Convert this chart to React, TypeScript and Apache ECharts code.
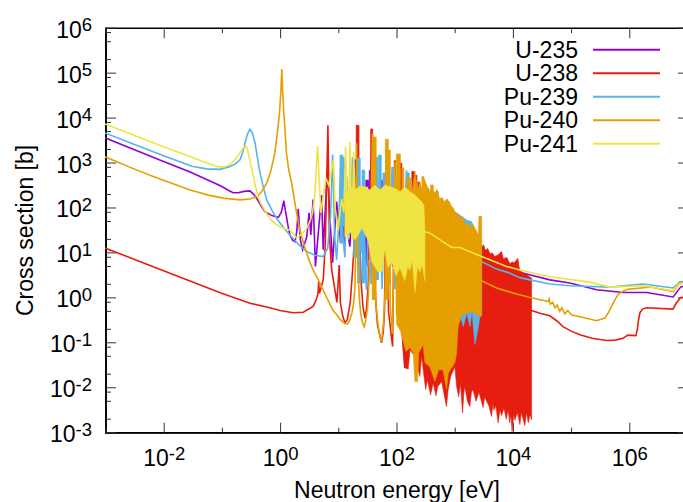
import React, { useEffect, useRef } from "react";
import * as echarts from "echarts";

// every pair is [log10(energy / eV), log10(cross section / b)]
type P = [number, number];
// a resolved resonance group: [log10 energy, log10 top, log10 bottom, width in log10 energy]
type Bar = [number, number, number, number];

const isotopeNames = ["U-235", "U-238", "Pu-239", "Pu-240", "Pu-241"];
const xMajorTicks = [-2, 0, 2, 4, 6];
const xOddTicks = [-3, -1, 1, 3, 5, 7];
const yDecades = [-3, -2, -1, 0, 1, 2, 3, 4, 5, 6];
const yMinorFactors = [2, 5, 8];

const u235Line: P[] = [
  [-3, 3.56], [-2.5, 3.3], [-2, 3.04], [-1.53, 2.8], [-1, 2.49], [-0.88, 2.4], [-0.79, 2.34], [-0.7, 2.34],
  [-0.6, 2.37], [-0.5, 2.38], [-0.44, 2.31], [-0.38, 2.21], [-0.3, 2.03], [-0.24, 1.92], [-0.12, 1.83], [-0.01, 1.79],
  [0.04, 1.9], [0.086, 2.16], [0.11, 1.95], [0.13, 1.81], [0.16, 1.58], [0.19, 1.4], [0.24, 1.28], [0.28, 1.25],
  [0.31, 1.5], [0.333, 1.98], [0.37, 1.29], [0.41, 1.07], [0.48, 1.36], [0.52, 1.89], [0.55, 1.4], [0.59, 2.19],
  [0.63, 0.7], [0.736, 2.29], [0.764, 1.07], [0.833, 2.81], [0.926, 0.78], [0.995, 2.14], [1.064, 1.22], [1.12, 1.96],
  [1.224, 1.14], [1.31, 3.07], [1.385, 1.22], [1.45, 2.6], [1.52, 0.7], [1.557, 2.58], [1.6, 0.6], [1.66, 2.6],
  [1.7, 0.9], [1.78, 2.5], [1.84, 0.8], [1.9, 2.4], [1.96, 0.7], [2.05, 2.3], [2.12, 0.9], [2.2, 2.1],
  [2.3, 0.9], [2.4, 1.9], [2.6, 1.1], [3, 1.2], [3.4, 0.95], [3.8, 0.75], [4.184, 0.56], [4.672, 0.4],
  [5.017, 0.33], [5.478, 0.18], [5.936, 0.12], [6.34, 0.12], [6.798, 0.02], [6.926, 0.24], [7.1, 0.3],
];
const u235Bars: Bar[] = [
  [1.121, 3.0, 1.22, 0.03], [1.078, 2.1, 1.22, 0.03], [1.31, 3.07, 0.92, 0.03], [1.517, 1.5, 0.84, 0.05],
  [1.581, 2.84, 0.84, 0.05], [1.52, 2.62, 2.47, 0.05], [1.776, 2.62, 1.0, 0.03], [1.828, 2.0, 1.0, 0.03],
];

const u238Line: P[] = [
  [-3, 1.11], [-2, 0.61], [-1, 0.11], [-0.5, -0.12], [-0.155, -0.22], [0.017, -0.28], [0.247, -0.33], [0.42, -0.32],
  [0.59, -0.19], [0.64, -0.05], [0.675, 0.1], [0.685, 0.35], [0.7, 0.1], [0.764, 0.4], [0.8, 1.2], [0.845, 3.84],
  [0.87, 1.4], [0.91, 0.62], [0.966, 0.18], [1.0, -0.1], [1.04, 0.73], [1.06, -0.1], [1.1, -0.4], [1.138, -0.56],
  [1.18, -0.48], [1.23, -0.1], [1.27, 0.6], [1.31, 1.5], [1.357, 3.84], [1.385, 1.5], [1.42, 0.3], [1.45, -0.2],
  [1.483, -0.45], [1.51, -0.25], [1.54, 0.3], [1.57, 1.2], [1.6, 3.75], [1.63, 1.2], [1.66, 0.1], [1.7, -0.6],
  [1.77, -1.0], [1.8, -0.75], [1.82, -0.3], [1.857, 3.3], [1.89, -0.3], [1.93, -0.75], [1.96, -1.08],
  [2, 3.05], [2.07, -0.5], [2.1, 2.98], [2.14, -1], [2.17, -1.56], [2.2, 2.5], [2.26, -1.16],
  [2.315, 2.81], [2.35, -1.3], [2.41, 2.55], [2.45, -1.3], [2.57, 2.4], [2.62, 0], [4.357, -0.28], [4.5, -0.34],
  [4.672, -0.4], [4.8, -0.52], [4.897, -0.64], [5.04, -0.74], [5.19, -0.82], [5.4, -0.9], [5.65, -0.95], [5.8, -0.94],
  [5.93, -0.9], [6.017, -0.83], [6.155, -0.84], [6.18, -0.7], [6.2, -0.5], [6.224, -0.33], [6.27, -0.25], [6.34, -0.22],
  [6.793, -0.25], [6.85, -0.12], [6.926, 0.01], [7.1, 0.02],
];
const u238Top: P[] = [
  [2.116, -0.7], [2.3, -0.3], [2.5, 1.5], [2.7, 1.8], [3, 1.6], [3.3, 1.4], [3.495, 1.14], [3.53, 1.18],
  [3.56, 1.06], [3.6, 1.1], [3.64, 0.98], [3.68, 1.0], [3.72, 0.92], [3.78, 0.96], [3.84, 1.03], [3.87, 0.87],
  [3.93, 0.9], [3.983, 0.76], [4.02, 0.8], [4.06, 0.78], [4.12, 0.88], [4.14, 0.7], [4.155, 0.6], [4.25, 0.53],
  [4.357, 0.44],
];
const u238Bottom: P[] = [
  [2.116, -0.78], [2.172, -1.56], [2.23, -1.58], [2.26, -1.16], [2.345, -1.3], [2.43, -1.75], [2.46, -1.3], [2.53, -2.04],
  [2.56, -1.82], [2.615, -2.16], [2.66, -1.89], [2.707, -2.18], [2.74, -1.97], [2.805, -1.86], [2.89, -2.42], [2.914, -2.08],
  [2.96, -1.75], [3.034, -1.53], [3.064, -1.97], [3.1, -2.2], [3.13, -1.9], [3.167, -2.56], [3.19, -2.1], [3.207, -1.97],
  [3.25, -2.3], [3.293, -2.42], [3.32, -2.1], [3.345, -2.04], [3.4, -2.3], [3.45, -2.1], [3.52, -2.44], [3.55, -2.2],
  [3.58, -2.3], [3.62, -2.4], [3.667, -2.64], [3.69, -2.35], [3.707, -2.5], [3.74, -2.4], [3.78, -2.78], [3.81, -2.5],
  [3.84, -2.62], [3.88, -2.45], [3.92, -2.7], [3.953, -2.5], [3.98, -2.78], [4.0, -2.6], [4.02, -2.97], [4.05, -2.6],
  [4.07, -2.72], [4.11, -2.55], [4.155, -2.82], [4.18, -2.55], [4.21, -2.7], [4.24, -2.84], [4.27, -2.55], [4.3, -2.78],
  [4.33, -2.6], [4.357, -2.71],
];
const u238Bars: Bar[] = [
  [1.357, 3.84, 1.5, 0.05], [1.6, 3.76, 1.0, 0.035], [2.103, 3.0, 1.0, 0.035], [2.0, 3.05, 1.0, 0.03],
  [2.316, 2.81, 1.0, 0.05], [2.362, 2.73, 1.0, 0.035], [2.414, 2.58, 1.0, 0.035], [2.569, 2.42, 1.0, 0.035],
];

const pu239Line: P[] = [
  [-3, 3.67], [-2.5, 3.42], [-2, 3.17], [-1.5, 2.93], [-1.25, 2.87], [-1.02, 2.86], [-0.85, 2.92], [-0.75, 2.98],
  [-0.67, 3.07], [-0.62, 3.25], [-0.586, 3.44], [-0.54, 3.65], [-0.5, 3.75], [-0.46, 3.68], [-0.41, 3.44], [-0.37, 3.12],
  [-0.33, 2.81], [-0.27, 2.47], [-0.21, 2.18], [-0.12, 1.95], [-0.04, 1.77], [0.08, 1.56], [0.19, 1.4], [0.33, 1.2],
  [0.48, 1.03], [0.62, 0.95], [0.76, 0.92], [0.84, 1.1],
  [0.89, 1.8], [0.926, 3.19], [0.96, 1.4], [0.995, 0.84], [1.03, 1.6], [1.07, 3.18], [1.1, 1.4], [1.138, 0.9],
  [1.17, 2.7], [1.2, 1.3], [1.24, 2], [1.27, 3.13], [1.3, 1.4], [1.33, 0.9], [1.38, 2.5], [1.42, 1.0],
  [1.45, 2.85], [1.49, 0.6], [1.51, 0.18], [1.55, 2.4], [1.59, 0.3], [1.62, 2.5], [1.66, 0.5], [1.684, 3.1],
  [1.71, 0.4], [1.74, 3.14], [1.78, 0.2], [1.83, 2.77], [1.87, 0], [1.96, 2.91], [2.0, 0.2], [2.06, 2.7],
  [2.1, 0], [2.2, 2.84], [2.26, 0], [2.4, 1], [3.495, 0.81], [3.753, 0.64], [3.983, 0.55], [4.155, 0.45],
  [4.328, 0.4], [4.672, 0.31], [5.017, 0.27], [5.707, 0.24], [6.276, 0.31], [6.798, 0.22], [6.914, 0.36], [7.1, 0.38],
];
const pu239Top: P[] = [
  [2.3, 2.4], [3.034, 1.92], [3.24, 1.73], [3.32, 1.7], [3.41, 1.44], [3.466, 1.4], [3.495, 1.3],
];
const pu239Bottom: P[] = [
  [2.3, 0.2], [3.121, -0.38], [3.18, -0.64], [3.24, -0.33], [3.293, -0.64], [3.33, -0.3], [3.379, -1.04], [3.42, -0.78],
  [3.466, -0.42], [3.495, -0.4],
];
const pu239Bars: Bar[] = [
  [1.078, 3.18, 1.22, 0.05], [1.103, 3.13, 1.6, 0.05], [1.31, 2.0, 0.9, 0.05], [1.379, 3.11, 0.33, 0.05],
  [1.457, 2.84, 0.33, 0.05], [1.684, 3.13, 0.4, 0.04], [1.741, 3.18, 1.1, 0.05], [1.81, 2.78, 1.5, 0.035],
  [1.96, 2.91, 1.0, 0.035], [2.224, 2.78, 1.0, 0.05], [2.724, 2.36, 1.0, 0.05],
];

const pu240Line: P[] = [
  [-3, 3.14], [-2.5, 2.87], [-2.11, 2.67], [-1.53, 2.4], [-1.2, 2.28], [-0.96, 2.22], [-0.67, 2.18], [-0.5, 2.2],
  [-0.38, 2.25], [-0.3, 2.36], [-0.21, 2.55], [-0.14, 2.82], [-0.07, 3.22], [-0.02, 3.75], [0.01, 4.1], [0.034, 4.6],
  [0.05, 5.09], [0.065, 4.6], [0.085, 4.1], [0.103, 3.8], [0.13, 3.22], [0.17, 2.85], [0.22, 2.55], [0.29, 2.0],
  [0.36, 1.51], [0.44, 1.15], [0.52, 0.84], [0.59, 0.62], [0.68, 0.4], [0.8, 0.07], [0.93, -0.27], [1.0, -0.38],
  [1.07, -0.5], [1.13, -0.56], [1.18, -0.58], [1.22, -0.5], [1.26, -0.33], [1.29, -0.1], [1.31, 0.2], [1.325, 1.2],
  [1.34, 3.44], [1.355, 1.2], [1.37, 0.4], [1.39, -0.05], [1.41, -0.35], [1.44, -0.55], [1.47, -0.64], [1.5, -0.48],
  [1.53, -0.2], [1.55, 0.25], [1.575, 1.2], [1.615, 3.66], [1.64, 1.2], [1.66, 0.2], [1.68, -0.25], [1.72, -0.7],
  [1.77, -0.99], [1.8, -0.6], [1.83, 0.1], [1.84, 0.8], [1.857, 3.51], [1.875, 0.2], [1.897, 3.25], [1.92, -0.2],
  [1.96, -0.8], [2.0, 3.03], [2.03, -0.4], [2.06, 3.18], [2.09, -0.71], [2.2, 1], [3.495, 0.38], [3.753, 0.22],
  [4.034, 0.11], [4.328, 0.01], [4.64, -0.08], [4.66, -0.02], [4.68, -0.14], [4.72, -0.1], [4.76, -0.22], [4.8, -0.16],
  [4.84, -0.3], [4.88, -0.22], [4.93, -0.36], [4.98, -0.28], [5.047, -0.38], [5.19, -0.42], [5.478, -0.51], [5.62, -0.45],
  [5.68, -0.33], [5.736, -0.19], [5.8, -0.03], [5.845, 0.07], [5.93, 0.15], [6.017, 0.19], [6.397, 0.24], [6.798, 0.14],
  [6.914, 0.33], [7.1, 0.36],
];
const pu240Top: P[] = [
  [2.03, 2.3], [2.14, 2.4], [2.19, 2.3], [2.23, 2.45], [2.29, 2.3], [2.345, 2.81], [2.39, 2.4], [2.43, 2.58],
  [2.46, 2.4], [2.5, 2.66], [2.6, 2.35], [2.64, 2.42], [2.69, 2.33], [2.73, 2.42], [2.77, 2.2], [2.81, 2.24],
  [2.85, 2.14], [2.9, 2.2], [2.948, 2.12], [2.978, 2.03], [3.01, 2.0], [3.034, 1.9], [3.07, 1.88], [3.121, 1.78],
  [3.18, 1.8], [3.2, 1.62], [3.25, 1.68], [3.3, 1.58], [3.35, 1.62], [3.4, 1.5], [3.44, 1.4], [3.45, 1.82],
  [3.495, 1.81],
];
const pu240Bottom: P[] = [
  [2.03, -0.6], [2.09, -0.71], [2.19, -1.19], [2.26, -1.11], [2.315, -1.22], [2.345, -1.86], [2.39, -1.86], [2.41, -1.22],
  [2.49, -1.04], [2.517, -1.44], [2.603, -1.53], [2.69, -1.86], [2.75, -1.6], [2.83, -1.6], [2.89, -2.03], [2.92, -1.67],
  [3.034, -1.44], [3.064, -1.22], [3.09, -0.64], [3.15, -0.38], [3.32, -0.3], [3.466, -0.42], [3.495, -0.38],
];
const pu240Bars: Bar[] = [
  [1.643, 3.58, -0.04, 0.07], [1.862, 3.53, -0.04, 0.05], [1.905, 3.29, 0.3, 0.035], [2.06, 3.2, 0.3, 0.07],
  [2.138, 2.89, 0.3, 0.035], [2.241, 2.67, 0.3, 0.07], [2.483, 2.7, 1.0, 0.035], [2.638, 2.51, 1.0, 0.05],
];

const pu241Line: P[] = [
  [-3, 3.87], [-2.5, 3.62], [-2, 3.37], [-1.5, 3.13], [-1.3, 3.03], [-1.15, 2.96], [-1.05, 2.92], [-0.95, 2.91],
  [-0.85, 2.96], [-0.75, 3.09], [-0.7, 3.17], [-0.65, 3.27], [-0.6, 3.36], [-0.57, 3.38], [-0.54, 3.3], [-0.5, 3.07],
  [-0.47, 2.88], [-0.44, 2.7], [-0.4, 2.47], [-0.36, 2.25], [-0.32, 2.12], [-0.27, 2.0], [-0.2, 1.85], [-0.13, 1.73],
  [-0.05, 1.64], [0.02, 1.58], [0.1, 1.54], [0.19, 1.51], [0.25, 1.42], [0.3, 1.34], [0.38, 1.4], [0.48, 1.55],
  [0.54, 1.72], [0.58, 1.89], [0.62, 2.3], [0.65, 3.0], [0.667, 3.38], [0.695, 2.62], [0.724, 1.89], [0.81, 2.67],
  [0.86, 2.5], [0.94, 3.07], [0.97, 2.0], [1.02, 1.5], [1.08, 2.2], [1.12, 1.9], [1.15, 3.36], [1.19, 1.3],
  [1.225, 3.47], [1.26, 1.3], [1.29, 3.25], [1.33, 1.4], [1.5, 2.0], [2.517, 1.47], [2.603, 1.44], [2.978, 1.12],
  [3.12, 1.12], [3.495, 0.92], [3.926, 0.7], [4.155, 0.62], [4.672, 0.47], [5.362, 0.35], [5.707, 0.24], [6.276, 0.27],
  [6.798, 0.16], [6.884, 0.3], [7.1, 0.37],
];
const pu241Top: P[] = [
  [1.138, 2.29], [1.224, 2.47], [1.31, 2.4], [1.397, 2.49], [1.483, 2.47], [1.569, 2.4], [1.655, 2.51], [1.741, 2.4],
  [1.828, 2.51], [1.914, 2.47], [2.0, 2.44], [2.086, 2.36], [2.172, 2.47], [2.259, 2.36], [2.345, 2.29], [2.431, 2.18],
  [2.5, 2.07], [2.517, 1.47],
];
const pu241Bottom: P[] = [
  [1.138, 1.36], [1.224, 1.47], [1.31, 1.29], [1.362, 1.38], [1.431, 1.56], [1.534, 1.29], [1.603, 0.8], [1.707, 0.58],
  [1.776, 0.58], [1.828, 1.07], [1.879, 0.67], [1.948, 0.8], [2.017, 0.49], [2.086, 0.67], [2.172, 0.38], [2.22, 0.7],
  [2.259, 0.62], [2.3, 0.85], [2.345, 0.11], [2.39, 0.7], [2.431, 0.58], [2.47, 0.75], [2.517, 0.38],
];

const colors = ["#9400D3", "#E51E10", "#56B4E9", "#E69F00", "#F0E442"];
const lines = [u235Line, u238Line, pu239Line, pu240Line, pu241Line];
const bands: ([P[], P[]] | null)[] = [
  null,
  [u238Top, u238Bottom],
  [pu239Top, pu239Bottom],
  [pu240Top, pu240Bottom],
  [pu241Top, pu241Bottom],
];
const bars: Bar[][] = [u235Bars, u238Bars, pu239Bars, pu240Bars, []];

// the readings were taken with a ruler of 58 px per decade from x = 279; the axis is 58.2 from 280.7
const readX = (e: number) => (279 + 58 * e - 280.7) / 58.2;
const pt = (p: P) => [Math.pow(10, readX(p[0])), Math.pow(10, p[1])];
const FONT = "Liberation Sans";
const X_MIN = 1e-3;
const X_MAX = 1e7;
const Y_MIN = 1e-3;
const Y_MAX = 1e6;

function tickItems(api: any) {
  const children: any[] = [];
  const add = (a: number[], dx: number, dy: number) =>
    children.push({
      type: "line",
      shape: { x1: a[0], y1: a[1], x2: a[0] + dx, y2: a[1] + dy },
      style: { stroke: "#333", lineWidth: 1 },
    });
  const xTick = (e: number, len: number) => {
    add(api.coord([Math.pow(10, e), Y_MIN]), 0, -len);
    add(api.coord([Math.pow(10, e), Y_MAX]), 0, len);
  };
  const yTick = (v: number, len: number) => {
    add(api.coord([X_MIN, v]), len, 0);
    add(api.coord([X_MAX, v]), -len, 0);
  };
  xMajorTicks.forEach((e) => xTick(e, 10));
  xOddTicks.forEach((e) => xTick(e, 5));
  yDecades.forEach((d) => {
    yTick(Math.pow(10, d), 10);
    if (d < 6) yMinorFactors.forEach((f) => yTick(f * Math.pow(10, d), 5));
  });
  return { type: "group", children };
}

function labelRich() {
  return {
    b: { fontFamily: FONT, fontSize: 23, color: "#000", lineHeight: 26, verticalAlign: "bottom" },
    s: { fontFamily: FONT, fontSize: 18.5, color: "#000", lineHeight: 26, verticalAlign: "top", padding: [0, 0, 8, 0] },
  };
}

export default function App() {
  const ref = useRef<HTMLDivElement>(null);
  useEffect(() => {
    const chart = echarts.init(ref.current!, undefined, { renderer: "svg" });
    const series: any[] = [
      {
        type: "custom",
        name: "ticks",
        coordinateSystem: "cartesian2d",
        data: [[1, 1]],
        clip: false,
        silent: true,
        z: 1,
        renderItem: (_p: any, api: any) => tickItems(api),
      },
    ];
    isotopeNames.forEach((name, i) => {
      const band = bands[i];
      series.push({
        type: "custom",
        name: name + " resonances",
        coordinateSystem: "cartesian2d",
        data: [[1, 1]],
        clip: true,
        silent: true,
        z: 2 + 2 * i,
        renderItem: (_p: any, api: any) => {
          const style = { fill: colors[i], stroke: colors[i], lineWidth: 0.6 };
          const children: any[] = bars[i].map(([x, top, bottom, w]) => ({
            type: "polygon",
            shape: {
              points: ([
                [x - w / 2, top],
                [x + w / 2, top],
                [x + w / 2, bottom],
                [x - w / 2, bottom],
              ] as P[]).map((p) => api.coord(pt(p))),
            },
            style,
          }));
          if (band) {
            children.push({
              type: "polygon",
              shape: {
                points: [...band[0], ...band[1].slice().reverse()].map((p) => api.coord(pt(p))),
              },
              style,
            });
          }
          return { type: "group", children };
        },
      });
      series.push({
        type: "line",
        name,
        data: lines[i].map(pt),
        showSymbol: false,
        symbol: "none",
        clip: true,
        z: 3 + 2 * i,
        lineStyle: { color: colors[i], width: 1.6, join: "miter" },
        itemStyle: { color: colors[i] },
      });
    });
    chart.setOption({
      animation: false,
      backgroundColor: "#fff",
      grid: {
        left: 106,
        top: 28.2,
        right: -5,
        bottom: 69.3,
        outerBoundsMode: "none",
        show: true,
        borderColor: "#000",
        borderWidth: 1.6,
        backgroundColor: "transparent",
      },
      legend: {
        data: isotopeNames,
        orient: "vertical",
        align: "right",
        right: 23,
        top: 38,
        itemWidth: 67,
        itemHeight: 2,
        itemGap: 0,
        icon: "rect",
        padding: 0,
        selectedMode: false,
        textStyle: { fontFamily: FONT, fontSize: 23, color: "#000", lineHeight: 23.5, padding: [0, 10, 0, 0] },
      },
      xAxis: {
        type: "log",
        logBase: 10,
        min: X_MIN,
        max: X_MAX,
        interval: 1,
        name: "Neutron energy [eV]",
        nameLocation: "middle",
        nameGap: 46,
        nameTextStyle: { fontFamily: FONT, fontSize: 23, color: "#000" },
        axisLine: { show: true, lineStyle: { color: "#000", width: 1.6 } },
        axisTick: { show: false },
        splitLine: { show: false },
        minorTick: { show: false },
        axisLabel: {
          show: true,
          margin: 11,
          showMinLabel: true,
          showMaxLabel: true,
          hideOverlap: false,
          interval: 0,
          formatter: (v: number) => {
            const e = Math.log10(v);
            const r = Math.round(e);
            return Math.abs(e - r) < 1e-6 && xMajorTicks.includes(r) ? `{b|10}{s|${r}}` : "";
          },
          rich: labelRich(),
        },
      },
      yAxis: {
        type: "log",
        logBase: 10,
        min: Y_MIN,
        max: Y_MAX,
        interval: 1,
        name: "Cross section [b]",
        nameLocation: "middle",
        nameGap: 70,
        nameTextStyle: { fontFamily: FONT, fontSize: 23, color: "#000" },
        axisLine: { show: true, lineStyle: { color: "#000", width: 1.6 } },
        axisTick: { show: false },
        splitLine: { show: false },
        minorTick: { show: false },
        axisLabel: {
          show: true,
          margin: 14,
          hideOverlap: false,
          interval: 0,
          formatter: (v: number) => `{b|10}{s|${Math.round(Math.log10(v))}}`,
          rich: labelRich(),
        },
      },
      series,
    });
    return () => chart.dispose();
  }, []);
  return (
    <div
      ref={ref}
      style={{ position: "absolute", left: 0, top: 0, width: 683, height: 502, background: "#fff" }}
    />
  );
}
